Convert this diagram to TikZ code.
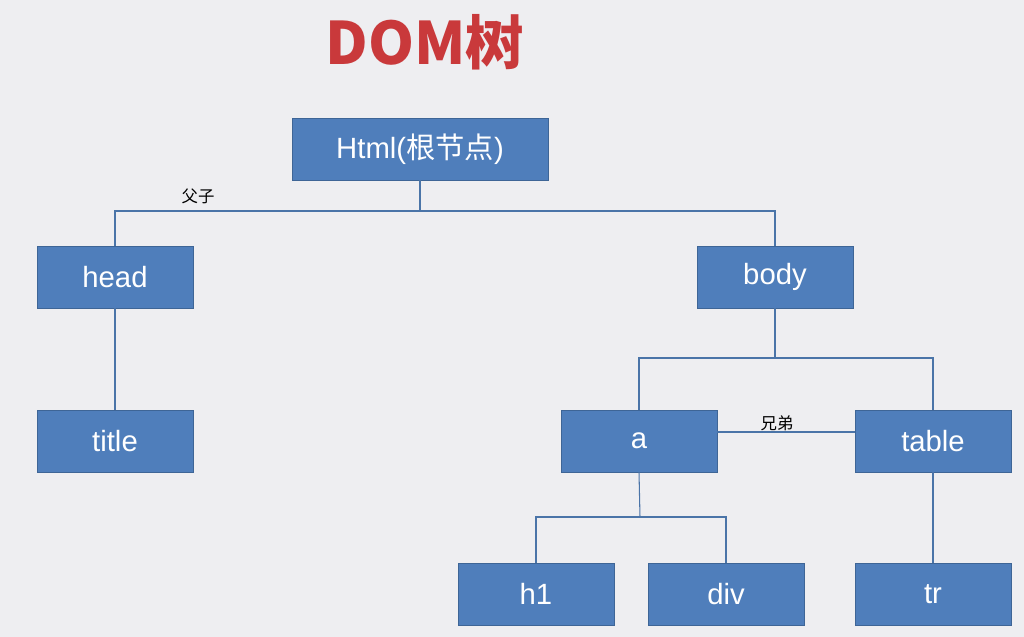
\documentclass[tikz,border=0pt]{standalone}
\usepackage{fontspec}
\setmainfont{Liberation Sans}
\newfontfamily\cjk{Noto Sans CJK SC}
\definecolor{bg}{HTML}{EEEEF1}
\definecolor{boxfill}{HTML}{4F7EBB}
\definecolor{boxline}{HTML}{3E6596}
\definecolor{conn}{HTML}{4A74A8}
\definecolor{ttl}{HTML}{C9393B}
\begin{document}
\begin{tikzpicture}[x=0.03cm,y=-0.03cm,
  box/.style={draw=boxline,fill=boxfill,text=white,minimum width=4.68cm,minimum height=1.86cm,inner sep=0pt,font=\fontsize{25}{28}\selectfont},
  wire/.style={draw=conn,line width=0.9pt},
  lab/.style={font=\cjk\fontsize{14}{16}\selectfont,text=black}]
\fill[bg] (0,0) rectangle (1024,637);
\node[font=\cjk\bfseries\fontsize{50}{56}\selectfont,text=ttl] (t) at (425,42) {DOM树};
\node[box,minimum width=7.68cm] (html) at (420,149) {Html({\cjk 根节点})};
\node[box] (head) at (115,277) {head};
\node[box] (body) at (775,277) {body};
\node[box] (title) at (115,441) {title};
\node[box] (a) at (639,441) {a};
\node[box] (table) at (933,441) {table};
\node[box] (h1) at (536,594) {h1};
\node[box] (div) at (726,594) {div};
\node[box] (tr) at (933,594) {tr};
\coordinate (j1) at (420,211);
\coordinate (j2) at (775,358);
\coordinate (j3) at (640,517);
\draw[wire] (html.south) -- (j1);
\draw[wire] (head.north) |- (j1) -| (body.north);
\draw[wire] (body.south) -- (j2);
\draw[wire] (a.north) |- (j2) -| (table.north);
\draw[wire] (a.south) -- (j3);
\draw[wire] (h1.north) |- (j3) -| (div.north);
\draw[wire] (head.south) -- (title.north);
\draw[wire] (table.south) -- (tr.north);
\draw[wire] ([yshift=0.27cm]a.east) -- ([yshift=0.27cm]table.west);
\node[lab] (l1) at (198,196) {父子};
\node[lab] (l2) at (777,423) {兄弟};
\end{tikzpicture}
\end{document}
